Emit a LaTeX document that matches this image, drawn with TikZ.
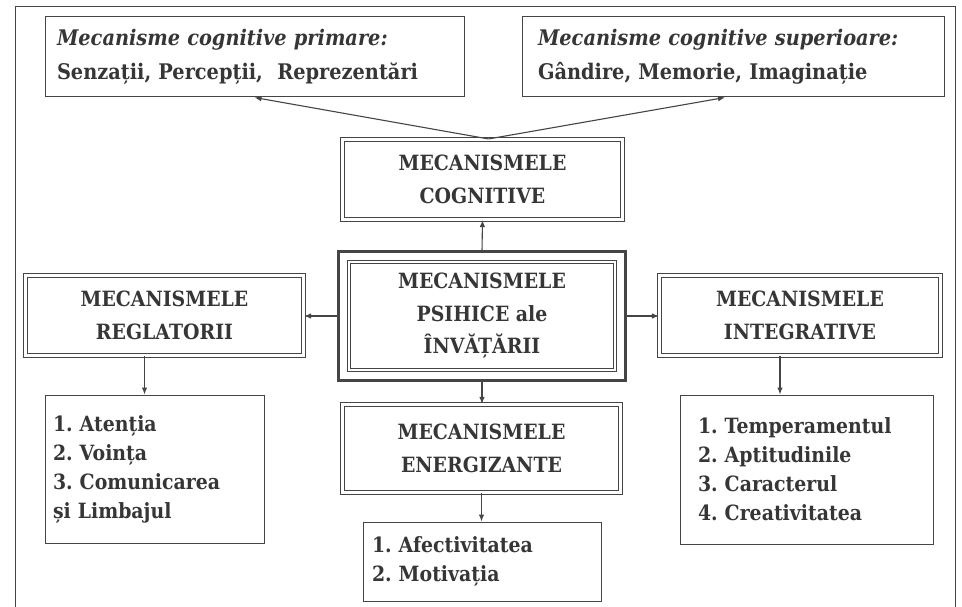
\documentclass[tikz,border=0pt]{standalone}
\usepackage{fontspec}
\setmainfont{DejaVu Serif}[FakeStretch=0.9]
\usetikzlibrary{arrows.meta}
\definecolor{ink}{HTML}{363636}
\definecolor{rule}{HTML}{454545}
\frenchspacing
\begin{document}
\begin{tikzpicture}[x=1pt,y=-1pt,
  every node/.style={text=ink, font=\bfseries\fontsize{21}{32.5}\selectfont},
  box/.style={draw=rule, line width=1pt, inner sep=0pt, align=center},
  dbox/.style={box, double=white, double distance=2.6pt, line width=1.1pt},
  topbox/.style={box, align=left, font=\bfseries\fontsize{21.5}{34}\selectfont},
  listbox/.style={box, align=left, font=\bfseries\fontsize{21}{29}\selectfont},
  link/.style={draw=rule, line width=1.1pt, -{Latex[length=7pt,width=5.5pt]}},
]
\useasboundingbox (0,0) rectangle (962,607);
\clip (0,0) rectangle (962,607);
\fill[white] (0,0) rectangle (962,607);

% page frame, open at the bottom
\draw[rule, line width=0.9pt] (15,620) -- (15,6) -- (955,6) -- (955,620);

% upper row: the two kinds of cognitive mechanisms
\node[topbox, minimum width=419, minimum height=80, text width=395, inner xsep=12]
  (prim) at (254.5,57) {{\itshape Mecanisme cognitive primare:}\\Senzații, Percepții,~ Reprezentări};
\node[topbox, minimum width=422, minimum height=80, text width=390, inner xsep=16]
  (sup) at (733,57) {{\itshape Mecanisme cognitive superioare:}\\Gândire, Memorie, Imaginație};

% central box with its heavy outer frame
\node[dbox, minimum width=266, minimum height=108] (cen) at (482,316)
  {MECANISMELE\\PSIHICE ale\\ÎNVĂȚĂRII};
\draw[rule, line width=2.4pt] ([shift={(-10,-10)}]cen.north west) rectangle ([shift={(10,10)}]cen.south east);

% the four groups of mechanisms
\node[dbox, minimum width=280, minimum height=80] (cog) at (482.5,179.5) {MECANISMELE\\COGNITIVE};
\node[dbox, minimum width=278, minimum height=80] (regl) at (164.5,315.5) {MECANISMELE\\REGLATORII};
\node[dbox, minimum width=281, minimum height=80] (integr) at (800,315.5) {MECANISMELE\\INTEGRATIVE};
\node[dbox, minimum width=278, minimum height=88] (energ) at (481.5,448.5) {MECANISMELE\\ENERGIZANTE};

% their components
\node[listbox, minimum width=219, minimum height=148, text width=203, inner xsep=8]
  (regl-list) at (154.5,469) {1. Atenția\\2. Voința\\3. Comunicarea\\și Limbajul};
\node[listbox, minimum width=253, minimum height=149, text width=217, inner xsep=18]
  (integr-list) at (806.5,469.5) {1. Temperamentul\\2. Aptitudinile\\3. Caracterul\\4. Creativitatea};
\node[listbox, minimum width=238, minimum height=79, text width=220, inner xsep=9]
  (energ-list) at (482,561.5) {1. Afectivitatea\\2. Motivația};

% connectors
\draw[link] ([xshift=6]cog.north) -- (prim.south);
\draw[link] ([xshift=6]cog.north) -- ([xshift=-8]sup.south);
\draw[link] ([shift={(0,-10)}]cen.north) -- (cog.south);
\draw[link] ([shift={(-10,0)}]cen.west) -- (cen.west -| regl.east);
\draw[link] ([shift={(10,0)}]cen.east) -- (cen.east -| integr.west);
\draw[link] ([shift={(0,10)}]cen.south) -- (cen.south |- energ.north);
\draw[link] (energ.south) -- (energ.south |- energ-list.north);
\draw[link] ([xshift=-20]regl.south) -- ([xshift=-20]regl.south |- regl-list.north);
\draw[link] ([xshift=-20]integr.south) -- ([xshift=-20]integr.south |- integr-list.north);
\end{tikzpicture}
\end{document}
